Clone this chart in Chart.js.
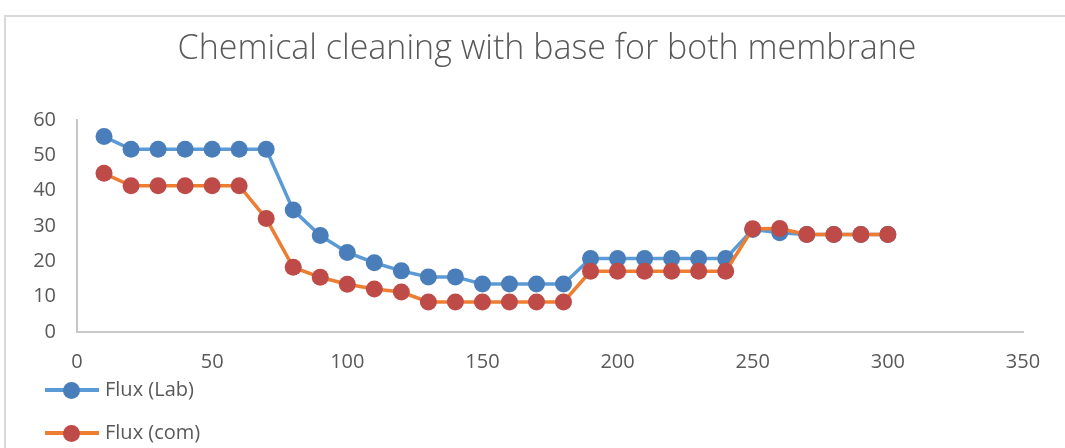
<!DOCTYPE html>
<html lang="en">
<head>
  <meta charset="UTF-8" />
  <title>Chemical cleaning with base for both membrane</title>
  <script src="https://cdn.jsdelivr.net/npm/chart.js"></script>
  <style>
    body { margin: 0; background: #fff; font-family: "Open Sans", sans-serif; color: #595959; }
    #wrap { position: relative; width: 1065px; height: 448px; overflow: hidden; }
    #frame { position: absolute; left: 4px; top: 15px; width: 1100px; height: 500px; border: 2px solid #d9d9d9; box-sizing: border-box; }
    #title { position: absolute; left: 0; width: 1094px; top: 23px; line-height: 46px; text-align: center; font-size: 34px; font-weight: 300; white-space: nowrap; }
    #chart { position: absolute; left: 0; top: 0; }
    .leg { position: absolute; left: 45px; height: 20px; font-size: 20px; }
    .leg .ln { position: absolute; left: 0; top: 8px; width: 54px; height: 4px; }
    .leg .dot { position: absolute; left: 18px; top: 1.5px; width: 17px; height: 17px; border-radius: 50%; }
    .leg .tx { position: absolute; left: 60px; top: -5px; white-space: nowrap; }
  </style>
</head>
<body>
<div id="wrap">
  <div id="frame"></div>
  <canvas id="chart" width="1065" height="448"></canvas>
  <div id="title">Chemical cleaning with base for both membrane</div>
  <div id="legend"></div>
</div>

<script>
  // x values (time) and flux readings
  const times = [10, 20, 30, 40, 50, 60, 70, 80, 90, 100, 110, 120, 130, 140, 150,
                 160, 170, 180, 190, 200, 210, 220, 230, 240, 250, 260, 270, 280, 290, 300];
  const fluxLab = [55.3, 51.7, 51.7, 51.7, 51.7, 51.7, 51.7, 34.5, 27.3, 22.5, 19.6, 17.3, 15.6, 15.6, 13.6,
                   13.6, 13.6, 13.6, 20.8, 20.8, 20.8, 20.8, 20.8, 20.8, 29, 28.1, 27.6, 27.6, 27.6, 27.6];
  const fluxCom = [44.9, 41.4, 41.4, 41.4, 41.4, 41.4, 32.1, 18.3, 15.5, 13.5, 12.2, 11.3, 8.5, 8.5, 8.5,
                   8.5, 8.5, 8.5, 17.2, 17.2, 17.2, 17.2, 17.2, 17.2, 29.2, 29.3, 27.6, 27.6, 27.6, 27.6];
  const seriesNames = ['Flux (Lab)', 'Flux (com)'];

  const pts = arr => arr.map((v, i) => ({ x: times[i], y: v }));

  const datasets = [
    { label: seriesNames[0], data: pts(fluxLab), borderColor: '#5b9bd5', pointBackgroundColor: '#4a7ebb',
      pointBorderColor: '#4a7ebb', order: 1 },
    { label: seriesNames[1], data: pts(fluxCom), borderColor: '#ed7d31', pointBackgroundColor: '#be4b48',
      pointBorderColor: '#be4b48', order: 0 }
  ];
  datasets.forEach(d => { d.borderWidth = 3.5; d.pointRadius = 8.5; d.pointBorderWidth = 0; d.tension = 0; });

  Chart.defaults.font.family = '"Open Sans", sans-serif';
  Chart.defaults.font.size = 20;
  Chart.defaults.color = '#595959';

  new Chart(document.getElementById('chart'), {
    type: 'line',
    data: { datasets },
    options: {
      responsive: false,
      animation: false,
      devicePixelRatio: 1,
      layout: { padding: { top: 120, right: 42, left: 0, bottom: 0 } },
      plugins: { legend: { display: false }, tooltip: { enabled: false } },
      scales: {
        x: {
          type: 'linear', min: 0, max: 350,
          ticks: { stepSize: 50, padding: 18 },
          grid: { display: false, drawTicks: false },
          border: { display: true, color: '#c8c8c8', width: 2 },
          afterFit: s => { s.height = 116; }
        },
        y: {
          min: 0, max: 60,
          ticks: { stepSize: 10, padding: 21 },
          grid: { display: false, drawTicks: false },
          border: { display: true, color: '#c8c8c8', width: 2 },
          afterFit: s => { s.width = 77; }
        }
      }
    }
  });

  // legend, stacked at the bottom left
  const legend = document.getElementById('legend');
  datasets.forEach((d, i) => {
    const row = document.createElement('div');
    row.className = 'leg';
    row.style.top = (380 + i * 43) + 'px';
    row.innerHTML = '<div class="ln" style="background:' + d.borderColor + '"></div>' +
      '<div class="dot" style="background:' + d.pointBackgroundColor + '"></div>' +
      '<div class="tx">' + d.label + '</div>';
    legend.appendChild(row);
  });
</script>
</body>
</html>
